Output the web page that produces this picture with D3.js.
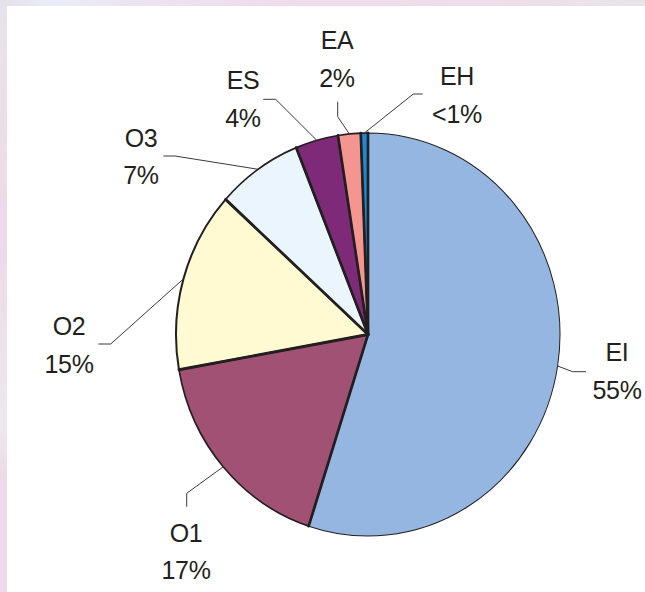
<!DOCTYPE html>
<html>
<head>
<meta charset="utf-8">
<script src="https://cdn.jsdelivr.net/npm/d3@7"></script>
<style>
  html, body { margin: 0; padding: 0; background: #fff; }
  svg { display: block; }
  .lbl { font-family: "Liberation Sans", Arial, sans-serif; font-size: 25px; fill: #231f20; letter-spacing: -0.3px; }
</style>
</head>
<body>
<script>
// data, clockwise from 12 o'clock
var categories = ["EI", "O1", "O2", "O3", "ES", "EA", "EH"];
var shares     = [55.0, 17.2, 14.5, 7.2, 3.6, 1.9, 0.6];
var shareText  = ["55%", "17%", "15%", "7%", "4%", "2%", "<1%"];

// styles
var colors   = ["#95b6e0", "#a05174", "#fffad2", "#eaf5fd", "#7e2a78", "#f5958f", "#1b8ad3"];
var arcWidth = [1, 1.6, 2, 1.6, 1.6, 1.6, 1.6];

var width = 645, height = 592;
var cx = 368, cy = 334.5, rx = 192, ry = 201.5;

// label layout: text centre x, first baseline y, leader elbow, leader end
var labelPos = [
  {tx: 617, ty: 361,   elbow: [572.7, 371.7], end: [586, 371.7]},
  {tx: 186, ty: 541.7, elbow: [186.7, 493.3], end: [186.7, 506.7]},
  {tx: 69,  ty: 335,   elbow: [110.7, 344],   end: [98.3, 344]},
  {tx: 141, ty: 146.7, elbow: [175, 156],     end: [163.3, 156]},
  {tx: 243, ty: 89.3,  elbow: [275.7, 99.3],  end: [263.3, 99.3]},
  {tx: 337, ty: 49.3,  elbow: [337.7, 116.7], end: [337.7, 101.7]},
  {tx: 457, ty: 85,    elbow: [413.3, 94],    end: [422.7, 94]}
];
var lineGap = 37.5;

var svg = d3.select("body").append("svg")
    .attr("width", width)
    .attr("height", height);

// background frame
var defs = svg.append("defs");
var gTop = defs.append("linearGradient").attr("id", "gtop");
gTop.append("stop").attr("offset", "0%").attr("stop-color", "#e6e0e8");
gTop.append("stop").attr("offset", "8%").attr("stop-color", "#e9edf8");
gTop.append("stop").attr("offset", "20%").attr("stop-color", "#ebe4f0");
gTop.append("stop").attr("offset", "45%").attr("stop-color", "#efdce9");
gTop.append("stop").attr("offset", "80%").attr("stop-color", "#eddfe9");
gTop.append("stop").attr("offset", "100%").attr("stop-color", "#e8e4ea");
var gLeft = defs.append("linearGradient").attr("id", "gleft")
    .attr("x1", 0).attr("y1", 0).attr("x2", 0).attr("y2", 1);
gLeft.append("stop").attr("offset", "0%").attr("stop-color", "#e6e3ea");
gLeft.append("stop").attr("offset", "12%").attr("stop-color", "#ece0e8");
gLeft.append("stop").attr("offset", "40%").attr("stop-color", "#ecdae6");
gLeft.append("stop").attr("offset", "72%").attr("stop-color", "#eee8ee");
gLeft.append("stop").attr("offset", "80%").attr("stop-color", "#ecdbe6");
gLeft.append("stop").attr("offset", "100%").attr("stop-color", "#ecdbe6");

svg.append("rect").attr("width", width).attr("height", 6).attr("fill", "url(#gtop)");
svg.append("rect").attr("y", 6).attr("width", 7).attr("height", height - 6).attr("fill", "url(#gleft)");
svg.append("rect").attr("x", 7).attr("y", 6).attr("width", width - 7).attr("height", height - 6).attr("fill", "#fff");

var pie = d3.pie().sort(null).value(function(d) { return d; });
var arcs = pie(shares);

var arc = d3.arc().innerRadius(0).outerRadius(rx);

// pie is slightly taller than wide in the picture
var g = svg.append("g")
    .attr("transform", "translate(" + cx + "," + cy + ") scale(1," + (ry / rx) + ")");

g.selectAll("path.slice")
  .data(arcs)
  .enter().append("path")
    .attr("class", "slice")
    .attr("d", arc)
    .attr("fill", function(d, i) { return colors[i]; })
    .attr("stroke", "#231f20")
    .attr("stroke-width", function(d, i) { return arcWidth[i]; })
    .attr("stroke-linejoin", "round");

// thick radial edges
g.selectAll("line.edge")
  .data(arcs)
  .enter().append("line")
    .attr("class", "edge")
    .attr("x1", 0).attr("y1", 0)
    .attr("x2", function(d) { return rx * Math.sin(d.startAngle); })
    .attr("y2", function(d) { return -rx * Math.cos(d.startAngle); })
    .attr("stroke", "#231f20")
    .attr("stroke-width", 2.7)
    .attr("stroke-linecap", "round");

// leader lines from slice mid-angle on the rim
function rimPoint(d) {
  var a = (d.startAngle + d.endAngle) / 2;
  return [cx + rx * Math.sin(a), cy - ry * Math.cos(a)];
}

svg.selectAll("path.leader")
  .data(arcs)
  .enter().append("path")
    .attr("class", "leader")
    .attr("d", function(d, i) {
      return d3.line()([rimPoint(d), labelPos[i].elbow, labelPos[i].end]);
    })
    .attr("fill", "none")
    .attr("stroke", "#3a3a3a")
    .attr("stroke-width", 1);

// labels
var lbl = svg.selectAll("text.lbl")
  .data(categories)
  .enter().append("text")
    .attr("class", "lbl")
    .attr("text-anchor", "middle");

lbl.append("tspan")
    .attr("x", function(d, i) { return labelPos[i].tx; })
    .attr("y", function(d, i) { return labelPos[i].ty; })
    .text(function(d) { return d; });
lbl.append("tspan")
    .attr("x", function(d, i) { return labelPos[i].tx; })
    .attr("y", function(d, i) { return labelPos[i].ty + lineGap; })
    .text(function(d, i) { return shareText[i]; });
</script>
</body>
</html>
